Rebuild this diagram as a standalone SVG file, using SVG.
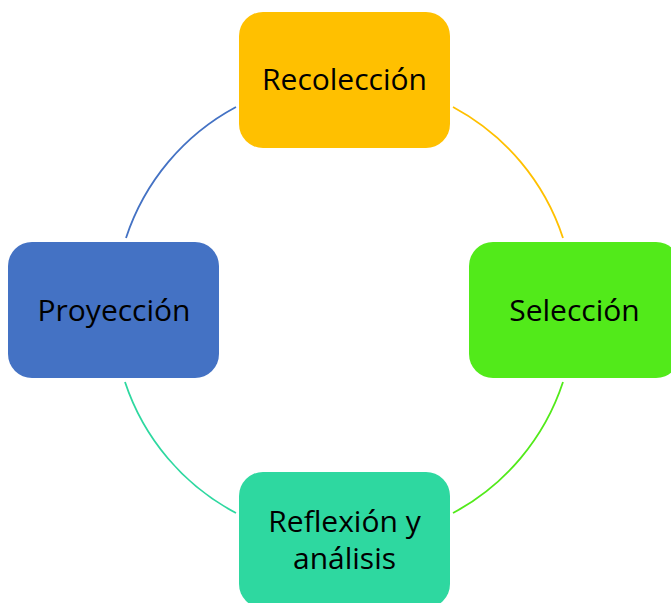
<svg xmlns="http://www.w3.org/2000/svg" width="671" height="603" viewBox="0 0 671 603">
<style>
.lbl{font-family:"Open Sans","Liberation Sans",sans-serif;font-size:30px;fill:#000;text-anchor:middle}
.arc{fill:none;stroke-width:1.8}
</style>
<rect width="671" height="603" fill="#fff"/>
<g id="connectors">
<path class="arc" stroke="#FFC000" d="M453,107 A230,230 0 0 1 563,238"/>
<path class="arc" stroke="#52EA1A" d="M563,382 A230,230 0 0 1 453,513"/>
<path class="arc" stroke="#2ED8A0" d="M236,513 A230,230 0 0 1 125,382"/>
<path class="arc" stroke="#4472C4" d="M126,238 A230,230 0 0 1 236,107"/>
</g>
<g id="recoleccion">
<rect x="239" y="12" width="211" height="136" rx="24" fill="#FFC000"/>
<text class="lbl" x="344.5" y="90">Recolección</text>
</g>
<g id="seleccion">
<rect x="469" y="242" width="211" height="136" rx="24" fill="#52EA1A"/>
<text class="lbl" x="574.5" y="321">Selección</text>
</g>
<g id="reflexion">
<rect x="239" y="472" width="211" height="136" rx="24" fill="#2ED8A0"/>
<text class="lbl" x="344.5" y="532">Reflexión y</text>
<text class="lbl" x="344.5" y="569">análisis</text>
</g>
<g id="proyeccion">
<rect x="8" y="242" width="211" height="136" rx="24" fill="#4472C4"/>
<text class="lbl" x="114" y="321">Proyección</text>
</g>
</svg>
